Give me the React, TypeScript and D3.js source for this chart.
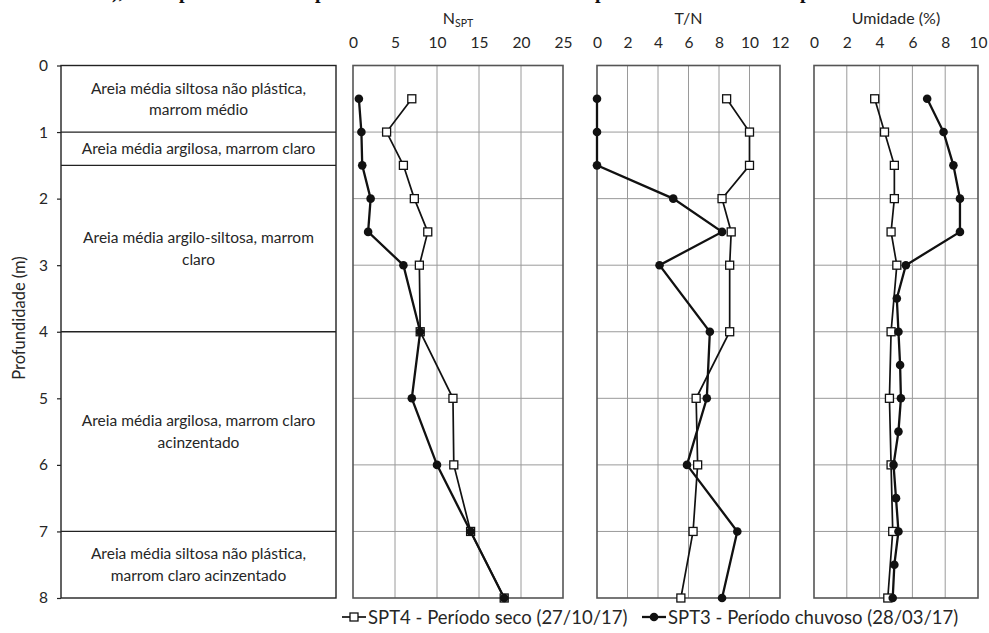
import React, { useEffect, useRef } from 'react'
import * as d3 from 'd3'

// depth (m) of each SPT reading
const SPT_DEPTHS = [0.5, 1, 1.5, 2, 2.5, 3, 4, 5, 6, 7, 8]
const NSPT_SECO = [7, 4, 6, 7.3, 8.9, 7.9, 8, 11.9, 12, 14, 18]
const NSPT_CHUVOSO = [0.7, 1, 1.1, 2.1, 1.8, 6, 8, 7, 10, 14, 18]
const TN_SECO = [8.5, 10, 10, 8.2, 8.8, 8.7, 8.7, 6.5, 6.6, 6.3, 5.5]
const TN_CHUVOSO = [0, 0, 0, 5, 8.2, 4.1, 7.4, 7.2, 5.9, 9.2, 8.2]
const UMID_SECO = [3.7, 4.3, 4.9, 4.9, 4.7, 5.05, 4.7, 4.6, 4.7, 4.8, 4.5]
const UMID_CHUVOSO_DEPTHS = [0.5, 1, 1.5, 2, 2.5, 3, 3.5, 4, 4.5, 5, 5.5, 6, 6.5, 7, 7.5, 8]
const UMID_CHUVOSO = [6.9, 7.9, 8.5, 8.9, 8.9, 5.6, 5.05, 5.15, 5.25, 5.3, 5.15, 4.85, 5.0, 5.15, 4.9, 4.8]

const DEPTH_TICKS = [0, 1, 2, 3, 4, 5, 6, 7, 8]
const NSPT_TICKS = [0, 5, 10, 15, 20, 25]
const TN_TICKS = [0, 2, 4, 6, 8, 10, 12]
const UMID_TICKS = [0, 2, 4, 6, 8, 10]

const LAYER_TOPS = [0, 1, 1.5, 4, 7]
const LAYER_BOTTOMS = [1, 1.5, 4, 7, 8]
const LAYER_LABELS = [
  ['Areia média siltosa não plástica,', 'marrom médio'],
  ['Areia média argilosa, marrom claro'],
  ['Areia média argilo-siltosa, marrom', 'claro'],
  ['Areia média argilosa, marrom claro', 'acinzentado'],
  ['Areia média siltosa não plástica,', 'marrom claro acinzentado'],
]

const LEGEND = ['SPT4 - Período seco (27/10/17)', 'SPT3 - Período chuvoso (28/03/17)']

const W = 989
const H = 633
const FONT = 'Lato, Carlito, "Open Sans", sans-serif'
const TEXT = '#262626'

const y = d3.scaleLinear().domain([0, 8]).range([65.5, 598])

const panels = [
  { x0: 353, x1: 563, max: 25, ticks: NSPT_TICKS, seco: NSPT_SECO, chuvoso: NSPT_CHUVOSO, chuvosoDepths: SPT_DEPTHS },
  { x0: 597, x1: 780, max: 12, ticks: TN_TICKS, seco: TN_SECO, chuvoso: TN_CHUVOSO, chuvosoDepths: SPT_DEPTHS },
  { x0: 814, x1: 978, max: 10, ticks: UMID_TICKS, seco: UMID_SECO, chuvoso: UMID_CHUVOSO, chuvosoDepths: UMID_CHUVOSO_DEPTHS },
]

export default function App() {
  const ref = useRef<SVGSVGElement>(null)

  useEffect(() => {
    const svg = d3.select(ref.current)
    svg.selectAll('*').remove()

    // caption of the figure, cut off by the top edge (only descenders show)
    const cap = svg.append('text')
      .attr('y', -2.2)
      .attr('font-family', '"Liberation Serif", "Times New Roman", serif')
      .attr('font-weight', 'bold')
      .attr('font-size', 20)
      .attr('fill', '#111')
    const capWords = [[112, '),'], [179, 'perfil'], [315, 'perfil'], [595, 'perfil'], [800, 'perfil']]
    capWords.forEach(([cx, t]) => cap.append('tspan').attr('x', cx).text(t as string))

    // lithology column
    const litho = svg.append('g')
    const lx0 = 61, lx1 = 336
    litho.append('rect')
      .attr('x', lx0).attr('y', y(0))
      .attr('width', lx1 - lx0).attr('height', y(8) - y(0))
      .attr('fill', 'none').attr('stroke', '#222').attr('stroke-width', 1.4)
    LAYER_TOPS.slice(1).forEach(d => {
      litho.append('line')
        .attr('x1', lx0).attr('x2', lx1)
        .attr('y1', y(d)).attr('y2', y(d))
        .attr('stroke', '#222').attr('stroke-width', 1.3)
    })
    LAYER_LABELS.forEach((lines, i) => {
      const mid = y((LAYER_TOPS[i] + LAYER_BOTTOMS[i]) / 2)
      const t = litho.append('text')
        .attr('text-anchor', 'middle')
        .attr('font-family', FONT).attr('font-size', 15.5).attr('fill', TEXT)
      lines.forEach((ln, j) => {
        t.append('tspan')
          .attr('x', (lx0 + lx1) / 2)
          .attr('y', mid + (j - (lines.length - 1) / 2) * 21.5 + 5.5)
          .text(ln)
      })
    })

    const yAxis = svg.append('g')
      .attr('transform', `translate(${lx0},0)`)
      .call(d3.axisLeft(y).tickValues(DEPTH_TICKS).tickSize(4).tickPadding(9).tickFormat(d3.format('d')))
    yAxis.select('.domain').remove()
    yAxis.selectAll('.tick line').attr('stroke', '#222').attr('stroke-width', 1.2)
    yAxis.selectAll('.tick text')
      .attr('font-family', FONT).attr('font-size', 15.5).attr('fill', TEXT)

    svg.append('text')
      .attr('transform', `translate(25,318) rotate(-90)`)
      .attr('text-anchor', 'middle')
      .attr('font-family', FONT).attr('font-size', 16.5).attr('fill', TEXT)
      .text('Profundidade (m)')

    // data panels
    panels.forEach(p => {
      const x = d3.scaleLinear().domain([0, p.max]).range([p.x0, p.x1])
      const g = svg.append('g')

      g.selectAll('.vgrid').data(p.ticks.slice(1, -1)).enter()
        .append('line')
        .attr('x1', d => x(d)).attr('x2', d => x(d))
        .attr('y1', y(0)).attr('y2', y(8))
        .attr('stroke', '#9a9a9a').attr('stroke-width', 1)
      g.selectAll('.hgrid').data(DEPTH_TICKS.slice(1, -1)).enter()
        .append('line')
        .attr('x1', p.x0).attr('x2', p.x1)
        .attr('y1', d => y(d)).attr('y2', d => y(d))
        .attr('stroke', '#9a9a9a').attr('stroke-width', 1)
      g.append('rect')
        .attr('x', p.x0).attr('y', y(0))
        .attr('width', p.x1 - p.x0).attr('height', y(8) - y(0))
        .attr('fill', 'none').attr('stroke', '#555').attr('stroke-width', 1.6)

      const xAxis = g.append('g')
        .attr('transform', `translate(0,${y(0)})`)
        .call(d3.axisTop(x).tickValues(p.ticks).tickSize(0).tickPadding(17.5))
      xAxis.select('.domain').remove()
      xAxis.selectAll('.tick text')
        .attr('font-family', FONT).attr('font-size', 15.5).attr('fill', TEXT)

      const line = d3.line<[number, number]>().x(d => x(d[0])).y(d => y(d[1]))

      const seco: [number, number][] = p.seco.map((v, i) => [v, SPT_DEPTHS[i]])
      const chuvoso: [number, number][] = p.chuvoso.map((v, i) => [v, p.chuvosoDepths[i]])

      g.append('path').datum(seco)
        .attr('d', line).attr('fill', 'none')
        .attr('stroke', '#111').attr('stroke-width', 1.7)
      g.append('path').datum(chuvoso)
        .attr('d', line).attr('fill', 'none')
        .attr('stroke', '#111').attr('stroke-width', 2.3)

      g.selectAll('.sq').data(seco).enter()
        .append('rect')
        .attr('x', d => x(d[0]) - 4).attr('y', d => y(d[1]) - 4)
        .attr('width', 8).attr('height', 8)
        .attr('fill', '#fff').attr('stroke', '#111').attr('stroke-width', 1.3)
      g.selectAll('.ci').data(chuvoso).enter()
        .append('circle')
        .attr('cx', d => x(d[0])).attr('cy', d => y(d[1]))
        .attr('r', 4.3).attr('fill', '#111')
    })

    // titles
    const tt = svg.append('g')
      .attr('font-family', FONT).attr('font-size', 16).attr('fill', TEXT)
      .attr('text-anchor', 'middle')
    const n = tt.append('text').attr('x', 458).attr('y', 24)
    n.append('tspan').text('N')
    n.append('tspan').attr('font-size', 10.5).attr('dy', 3).text('SPT')
    tt.append('text').attr('x', 688.5).attr('y', 24).text('T/N')
    tt.append('text').attr('x', 896).attr('y', 24).text('Umidade (%)')

    // legend
    const lg = svg.append('g')
      .attr('font-family', FONT).attr('font-size', 18.5).attr('fill', TEXT)
    const ly = 617
    lg.append('line').attr('x1', 342).attr('x2', 366).attr('y1', ly).attr('y2', ly)
      .attr('stroke', '#111').attr('stroke-width', 1.7)
    lg.append('rect').attr('x', 350).attr('y', ly - 4).attr('width', 8).attr('height', 8)
      .attr('fill', '#fff').attr('stroke', '#111').attr('stroke-width', 1.3)
    lg.append('text').attr('x', 368).attr('y', ly + 6.5).text(LEGEND[0])
    lg.append('line').attr('x1', 642).attr('x2', 666).attr('y1', ly).attr('y2', ly)
      .attr('stroke', '#111').attr('stroke-width', 2.3)
    lg.append('circle').attr('cx', 654).attr('cy', ly).attr('r', 4.3).attr('fill', '#111')
    lg.append('text').attr('x', 668).attr('y', ly + 6.5).text(LEGEND[1])
  }, [])

  return (
    <svg ref={ref} width={W} height={H}
      style={{ position: 'absolute', left: 0, top: 0, background: '#fff' }} />
  )
}
